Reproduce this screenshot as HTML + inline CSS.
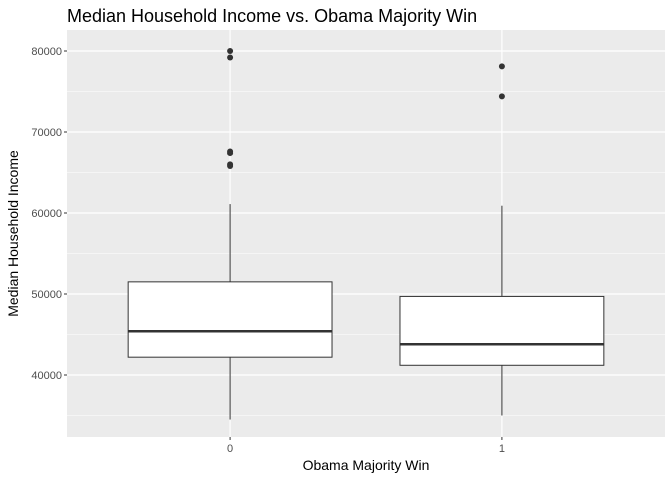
<!DOCTYPE html>
<html><head><meta charset="utf-8"><style>body{margin:0;background:#fff}svg{font-family:"Liberation Sans",sans-serif}</style></head>
<body>
<svg id="c" width="672" height="480"></svg>
<script>
const categories=["0","1"];
const q1=[42200,41200];
const medians=[45400,43800];
const q3=[51500,49700];
const whiskerLow=[34500,35000];
const whiskerHigh=[61100,60900];
const outliers=[[80000,79200,67600,67400,66000,65800],[78100,74400]];
const yTicks=[40000,50000,60000,70000,80000];
const yMinor=[35000,45000,55000,65000,75000];

const svg=document.getElementById('c');
const NS='http://www.w3.org/2000/svg';
const L=67,R=665,T=30,B=437;
const yMin=32346,yMax=82593;
const y=v=>B-(v-yMin)/(yMax-yMin)*(B-T);
const x=i=>L+(i+1-0.4)/2.2*(R-L);
const bw=0.75*(R-L)/2.2;
function el(t,a,name,txt){const e=document.createElementNS(NS,t);for(const k in a)e.setAttribute(k,a[k]);


if(txt!==undefined)e.textContent=txt;svg.appendChild(e);return e;}
el('rect',{x:L,y:T,width:R-L,height:B-T,fill:'#ebebeb'},'plot-panel');
yMinor.forEach(v=>el('line',{x1:L,x2:R,y1:y(v),y2:y(v),stroke:'#fff','stroke-width':0.6},'minor-gridline'));
yTicks.forEach(v=>{el('line',{x1:L,x2:R,y1:y(v),y2:y(v),stroke:'#fff','stroke-width':1.2},'major-gridline');
el('line',{x1:L-3,x2:L,y1:y(v),y2:y(v),stroke:'#333'},'y-tick');
el('text',{x:L-5,y:y(v)+4,'text-anchor':'end','font-size':11,fill:'#4d4d4d'},'y-tick-label',String(v));});
categories.forEach((c,i)=>{const cx=x(i);
el('line',{x1:cx,x2:cx,y1:T,y2:B,stroke:'#fff','stroke-width':1.2},'x-gridline');
el('line',{x1:cx,x2:cx,y1:B,y2:B+3,stroke:'#333'},'x-tick');
el('text',{x:cx,y:B+15,'text-anchor':'middle','font-size':11,fill:'#4d4d4d'},'x-tick-label',c);});
categories.forEach((c,i)=>{const cx=x(i);
el('line',{x1:cx,x2:cx,y1:y(whiskerHigh[i]),y2:y(q3[i]),stroke:'#333','stroke-width':1},'upper-whisker');
el('line',{x1:cx,x2:cx,y1:y(q1[i]),y2:y(whiskerLow[i]),stroke:'#333','stroke-width':1},'lower-whisker');
el('rect',{x:cx-bw/2,y:y(q3[i]),width:bw,height:y(q1[i])-y(q3[i]),fill:'#fff',stroke:'#333','stroke-width':1},'box-'+c);
el('line',{x1:cx-bw/2,x2:cx+bw/2,y1:y(medians[i]),y2:y(medians[i]),stroke:'#333','stroke-width':2.5},'median-'+c);
outliers[i].forEach(v=>el('circle',{cx:cx,cy:y(v),r:3,fill:'#333'},'outlier-point'));});
el('text',{x:67,y:22,'font-size':18,fill:'#000'},'chart-title','Median Household Income vs. Obama Majority Win');
el('text',{x:(L+R)/2,y:470,'text-anchor':'middle','font-size':14,fill:'#000'},'x-axis-title','Obama Majority Win');
el('text',{x:0,y:0,'text-anchor':'middle','font-size':14,fill:'#000',transform:`translate(18,${(T+B)/2}) rotate(-90)`},'y-axis-title','Median Household Income');
</script>
</body></html>
